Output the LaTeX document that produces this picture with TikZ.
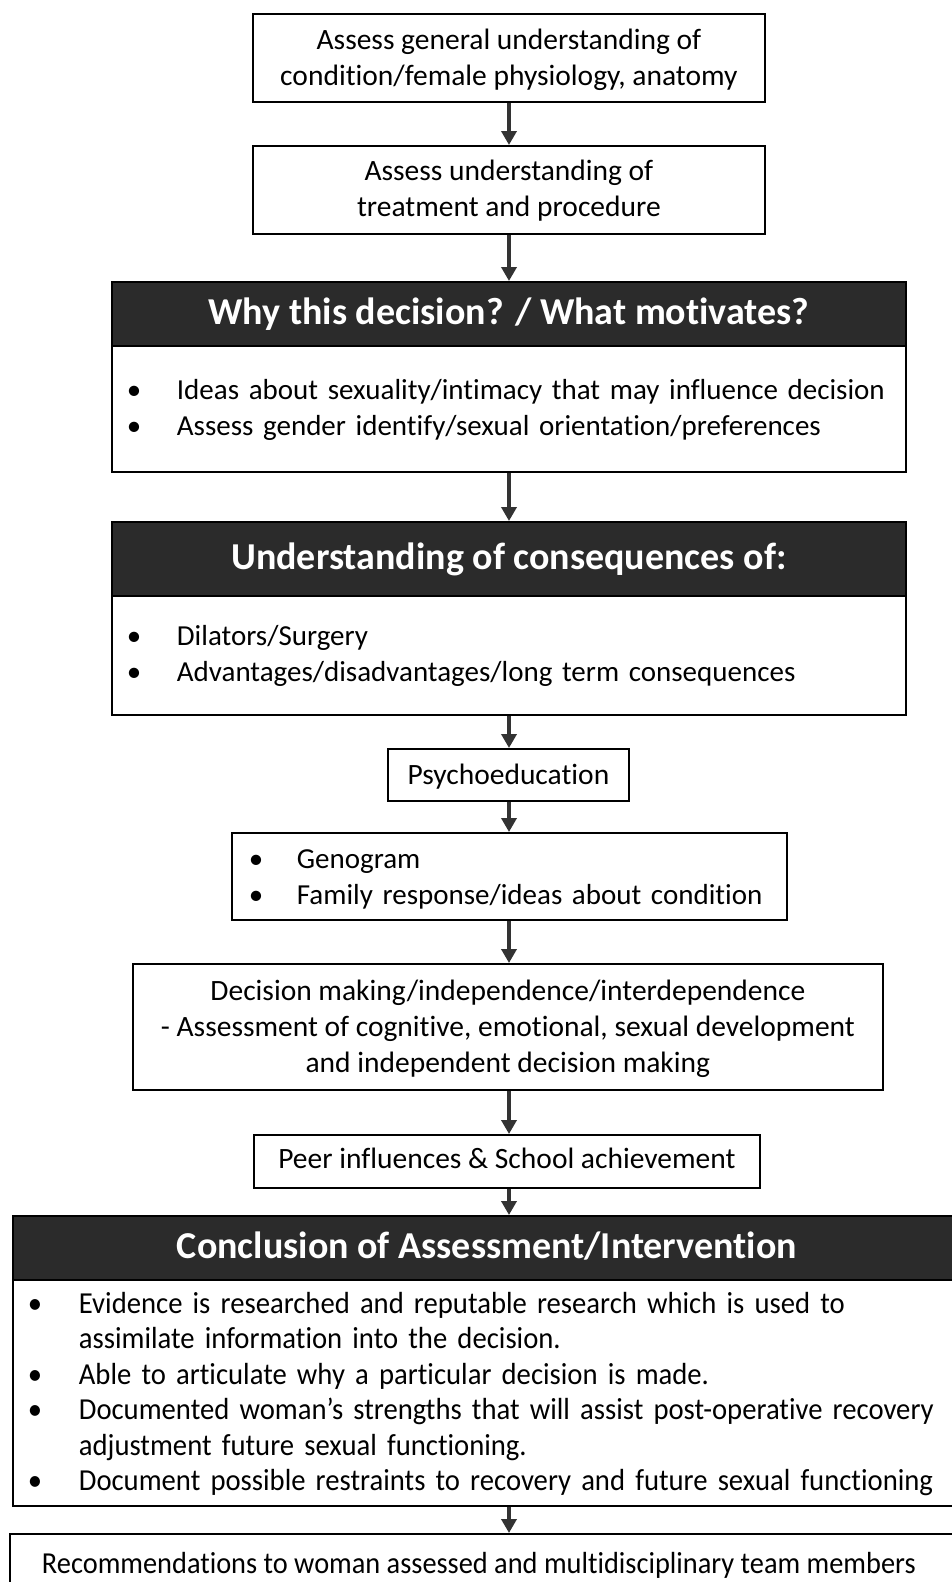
\documentclass[tikz,border=0pt]{standalone}
\usepackage{fontspec}
\setmainfont{Carlito}[Ligatures=NoCommon]
\usetikzlibrary{arrows.meta}
\definecolor{hdrgray}{HTML}{2B2B2B}
\definecolor{arrowgray}{HTML}{333333}
% centred lines, lowered by #1 without changing the box size
\newcommand\linesdown[2]{\raisebox{-#1}[\height][\depth]{\begin{tabular}{@{}c@{}}#2\end{tabular}}}
% bullet list, lowered by #1; #2 = bullet column width
\newcommand\bulletsdown[3]{\raisebox{-#1}[\height][\depth]{\begin{tabular}{@{}p{#2}@{}l@{}}#3\end{tabular}}}
\newcommand\bul{\hspace*{-8pt}•}
\begin{document}
\begin{tikzpicture}[x=1pt,y=-1pt,
  box/.style={draw=black, line width=1.8pt, inner sep=0pt, anchor=north west,
    font=\fontsize{29.5}{36}\selectfont},
  listbox/.style={draw=black, line width=1.8pt, inner ysep=0pt, align=left, anchor=north west,
    font=\fontsize{29}{36}\selectfont},
  hdr/.style={draw=black, fill=hdrgray, line width=1.8pt, inner sep=0pt, anchor=north west,
    text=white, font=\bfseries\fontsize{38}{44}\selectfont},
  flow/.style={draw=arrowgray, line width=4.5pt, -{Triangle[length=14pt,width=15pt]}},
]
\clip (0,0) rectangle (952,1582);
\fill[white] (0,0) rectangle (952,1582);
\coordinate (ax) at (509,0);

\node[box, minimum width=512, minimum height=88] (b1) at (252,13)
  {\linesdown{2pt}{Assess general understanding of\\condition/female physiology, anatomy}};
\node[box, minimum width=512, minimum height=88] (b2) at (252,145)
  {\linesdown{1pt}{Assess understanding of\\treatment and procedure}};

\node[hdr, minimum width=794, minimum height=64] (h1) at (111,281)
  {\linesdown{2pt}{Why this decision? / What motivates?}};
\node[listbox, inner xsep=23pt, text width=748pt, minimum height=126] (c1) at (111,345)
  {\bulletsdown{1pt}{42pt}{%
  \bul & Ideas about sexuality/intimacy that may influence decision\\
  \bul & Assess gender identify/sexual orientation/preferences}};

\node[hdr, minimum width=794, minimum height=74] (h2) at (111,521)
  {\linesdown{2pt}{Understanding of consequences of:}};
\node[listbox, inner xsep=23pt, text width=748pt, minimum height=119] (c2) at (111,595)
  {\bulletsdown{1pt}{42pt}{%
  \bul & Dilators/Surgery\\
  \bul & Advantages/disadvantages/long term consequences}};

\node[box, minimum width=241, minimum height=52] (psy) at (387,748)
  {\linesdown{2pt}{Psychoeducation}};

\node[listbox, inner xsep=25pt, text width=505pt, minimum height=87] (gen) at (231,832)
  {\bulletsdown{3pt}{40pt}{%
  \bul & Genogram\\
  \bul & Family response/ideas about condition}};

\node[box, minimum width=750, minimum height=126] (dec) at (132,963)
  {\linesdown{2pt}{Decision making/independence/interdependence\\
   - Assessment of cognitive, emotional, sexual development\\
   and independent decision making}};

\node[box, minimum width=506, minimum height=53] (peer) at (253,1134)
  {\linesdown{0pt}{Peer influences \& School achievement}};

\node[hdr, minimum width=960, minimum height=64] (h3) at (12,1215)
  {\hspace*{-12pt}\linesdown{2pt}{Conclusion of Assessment/Intervention}};
\node[listbox, inner xsep=23pt, text width=914pt, minimum height=226,
      font=\fontsize{30.5}{35.4}\selectfont\addfontfeature{FakeStretch=0.94}] (c3) at (12,1279)
  {\bulletsdown{2pt}{43pt}{%
  \bul & Evidence is researched and reputable research which is used to\\
       & assimilate information into the decision.\\
  \bul & Able to articulate why a particular decision is made.\\
  \bul & Documented woman’s strengths that will assist post-operative recovery\\
       & adjustment future sexual functioning.\\
  \bul & Document possible restraints to recovery and future sexual functioning}};

\node[box, minimum width=970, minimum height=60,
      font=\fontsize{30.5}{36}\selectfont\addfontfeature{FakeStretch=0.93}] (rec) at (9,1533)
  {\hspace*{-32pt}\linesdown{2pt}{Recommendations to woman assessed and multidisciplinary team members}};

\draw[flow] (b1.south -| ax) -- (b2.north -| ax);
\draw[flow] (b2.south -| ax) -- (h1.north -| ax);
\draw[flow] (c1.south -| ax) -- (h2.north -| ax);
\draw[flow] (c2.south -| ax) -- (psy.north -| ax);
\draw[flow] (psy.south -| ax) -- (gen.north -| ax);
\draw[flow] (gen.south -| ax) -- (dec.north -| ax);
\draw[flow] (dec.south -| ax) -- (peer.north -| ax);
\draw[flow] (peer.south -| ax) -- (h3.north -| ax);
\draw[flow] (c3.south -| ax) -- (rec.north -| ax);
\end{tikzpicture}
\end{document}
